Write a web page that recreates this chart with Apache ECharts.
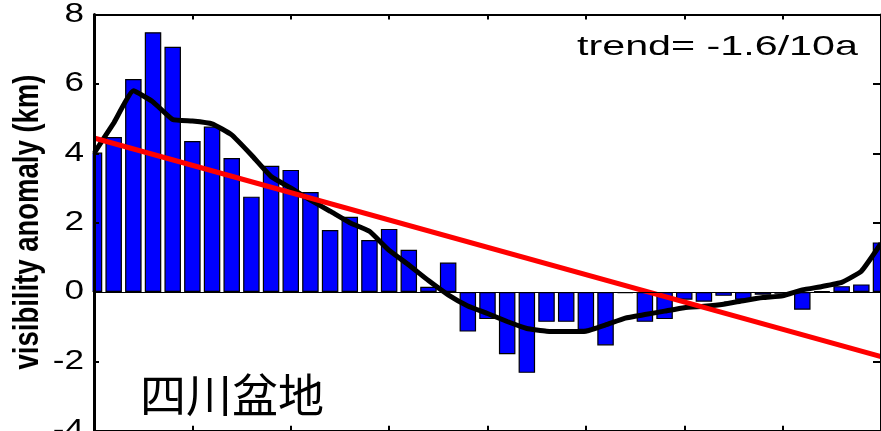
<!DOCTYPE html>
<html>
<head>
<meta charset="utf-8">
<script src="https://cdn.jsdelivr.net/npm/echarts@6/dist/echarts.min.js"></script>
<style>
  html, body { margin: 0; padding: 0; background: #ffffff; }
  #chart { width: 881px; height: 431px; }
</style>
</head>
<body>
<div id="chart"></div>
<script>
// Annual visibility anomaly, Sichuan Basin
const years = [1970, 1971, 1972, 1973, 1974, 1975, 1976, 1977, 1978, 1979,
               1980, 1981, 1982, 1983, 1984, 1985, 1986, 1987, 1988, 1989,
               1990, 1991, 1992, 1993, 1994, 1995, 1996, 1997, 1998, 1999,
               2000, 2001, 2002, 2003, 2004, 2005, 2006, 2007, 2008, 2009,
               2010];
const anomaly = [4.02, 4.47, 6.14, 7.49, 7.07, 4.35, 4.77, 3.86, 2.75, 3.64,
                 3.52, 2.88, 1.79, 2.17, 1.50, 1.82, 1.22, 0.15, 0.85, -1.14,
                 -0.78, -1.79, -2.33, -0.86, -0.86, -1.09, -1.54, -0.03, -0.86, -0.78,
                 -0.22, -0.28, -0.11, -0.22, -0.08, -0.05, -0.51, 0.02, 0.17, 0.22,
                 1.43];
// Low-pass filtered curve
const smoothed = [4.00, 4.87, 5.80, 5.48, 4.97, 4.93, 4.85, 4.53, 3.95, 3.33,
                  3.00, 2.65, 2.33, 2.00, 1.75, 1.20, 0.78, 0.33, -0.08, -0.40,
                  -0.62, -0.85, -1.05, -1.13, -1.14, -1.13, -0.95, -0.75, -0.65, -0.55,
                  -0.45, -0.41, -0.35, -0.25, -0.16, -0.11, 0.06, 0.16, 0.28, 0.60,
                  1.40];
// Linear trend end points
const trendYears = [1970, 2010];
const trendValues = [4.44, -1.86];
const yTicks = [8, 6, 4, 2, 0, -2, -4];
const trendLabel = 'trend= -1.6/10a';
const regionLabel = '四川盆地';
const yTitle = 'visibility anomaly (km)';

const chart = echarts.init(document.getElementById('chart'), null, { renderer: 'canvas' });

const xAxisBase = {
  type: 'value', min: 1970, max: 2010, interval: 5,
  axisLabel: { show: false },
  splitLine: { show: false },
  axisLine: { show: true, onZero: false, lineStyle: { color: '#000', width: 2 } },
  axisTick: { show: true, inside: true, length: 5, lineStyle: { color: '#000', width: 2 } },
  z: 10
};
const yAxisBase = {
  type: 'value', min: -4, max: 8, interval: 2,
  axisLabel: { show: false },
  splitLine: { show: false },
  axisLine: { show: true, lineStyle: { color: '#000', width: 3 } },
  axisTick: { show: true, inside: true, length: 5, lineStyle: { color: '#000', width: 2 } },
  z: 10
};

chart.setOption({
  animation: false,
  backgroundColor: '#ffffff',
  grid: { left: 94, top: 14.5, width: 788, height: 416.3, containLabel: false },
  xAxis: [
    Object.assign({}, xAxisBase, { position: 'bottom' }),
    Object.assign({}, xAxisBase, { position: 'top' })
  ],
  yAxis: [
    Object.assign({}, yAxisBase, { position: 'left' }),
    Object.assign({}, yAxisBase, {
      position: 'right',
      axisLine: { show: true, lineStyle: { color: '#000', width: 2 } },
      axisTick: { show: true, inside: true, length: 8, lineStyle: { color: '#000', width: 2 } }
    })
  ],
  series: [
    {
      type: 'bar',
      clip: true,
      data: years.map((y, i) => [y, anomaly[i]]),
      barWidth: 16.5,
      itemStyle: { color: '#0000ff', borderColor: '#000000', borderWidth: 1.2 },
      markLine: {
        silent: true, symbol: 'none', label: { show: false },
        lineStyle: { color: '#000', width: 1.2, type: 'solid' },
        data: [{ yAxis: 0 }]
      },
      z: 2
    },
    {
      type: 'line',
      clip: true,
      data: years.map((y, i) => [y, smoothed[i]]),
      showSymbol: false, symbol: 'none',
      smooth: 0.12,
      lineStyle: { color: '#000000', width: 5 },
      z: 3
    },
    {
      type: 'line',
      clip: true,
      data: trendYears.map((y, i) => [y, trendValues[i]]),
      showSymbol: false, symbol: 'none',
      lineStyle: { color: '#ff0000', width: 5 },
      z: 4
    }
  ]
});

// Plot frame mask: hides the half of the first bar that falls left of the axis
const plotLeft = chart.convertToPixel({ xAxisIndex: 0 }, years[0]);
const graphics = [{
  type: 'rect', z: 50,
  shape: { x: 60, y: 0, width: plotLeft - 1.5 - 60, height: 431 },
  style: { fill: '#ffffff' }
}];

// Text drawn horizontally widened, placed through the axis scale
yTicks.forEach(v => {
  const py = chart.convertToPixel({ yAxisIndex: 0 }, v);
  graphics.push({
    type: 'text', x: 84, y: py, scaleX: 1.3, z: 60,
    style: {
      text: String(v), fill: '#000',
      font: '27px "Liberation Sans", Arial, sans-serif',
      align: 'right', verticalAlign: 'middle'
    }
  });
});
graphics.push({
  type: 'text', x: 28, y: 222, rotation: Math.PI / 2, scaleY: 1.3, z: 60,
  style: {
    text: yTitle, fill: '#000',
    font: 'bold 27.5px "Liberation Sans", Arial, sans-serif',
    align: 'center', verticalAlign: 'middle'
  }
});
graphics.push({
  type: 'text', x: 577, y: 47, scaleX: 1.5, z: 60,
  style: {
    text: trendLabel, fill: '#000',
    font: '27.5px "Liberation Sans", Arial, sans-serif',
    align: 'left', verticalAlign: 'middle'
  }
});
graphics.push({
  type: 'text', x: 140, y: 395, z: 60,
  style: {
    text: regionLabel, fill: '#000',
    font: '46px "Noto Sans CJK SC", sans-serif',
    align: 'left', verticalAlign: 'middle'
  }
});
chart.setOption({ graphic: graphics });
</script>
</body>
</html>
